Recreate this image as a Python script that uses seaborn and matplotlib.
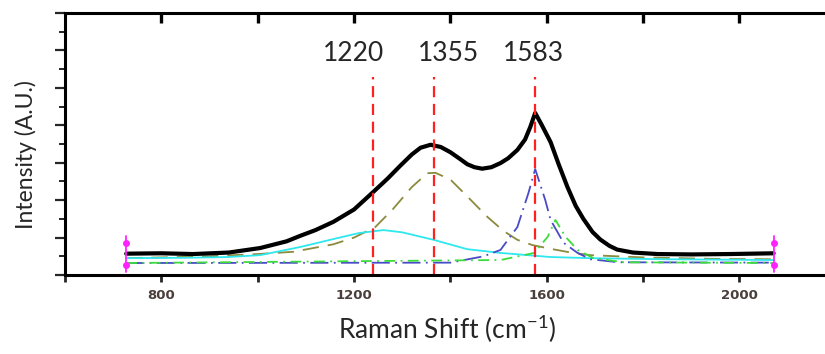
import matplotlib
matplotlib.use("Agg")
import matplotlib.pyplot as plt
import pandas as pd
import seaborn as sns

spec_x = [727, 800, 866, 940, 1005, 1060, 1089, 1120, 1157, 1200, 1240, 1270,
          1296, 1320, 1338, 1359, 1380, 1400, 1420, 1435, 1450, 1466, 1485,
          1504, 1520, 1539, 1555, 1566, 1576, 1590, 1608, 1625, 1643, 1660,
          1676, 1695, 1711, 1730, 1746, 1779, 1830, 1900, 1980, 2071]
spec_y = [0.57, 0.58, 0.56, 0.60, 0.72, 0.90, 1.05, 1.20, 1.42, 1.75, 2.22, 2.58,
          2.92, 3.22, 3.40, 3.48, 3.42, 3.28, 3.10, 2.96, 2.88, 2.84, 2.88,
          2.99, 3.12, 3.34, 3.62, 3.96, 4.33, 4.00, 3.55, 2.95, 2.35, 1.85,
          1.50, 1.15, 0.95, 0.78, 0.68, 0.60, 0.56, 0.55, 0.56, 0.58]

# fitted components
d_x = [727, 900, 1000, 1074, 1157, 1200, 1244, 1280, 1320, 1352, 1369, 1400,
       1435, 1477, 1510, 1539, 1570, 1608, 1650, 1691, 1800, 1950, 2071]
d_y = [0.45, 0.50, 0.56, 0.62, 0.82, 1.00, 1.28, 1.75, 2.35, 2.72, 2.73, 2.55,
       2.10, 1.55, 1.18, 0.94, 0.80, 0.70, 0.60, 0.53, 0.47, 0.43, 0.42]

c_x = [727, 850, 937, 1005, 1089, 1157, 1210, 1261, 1300, 1365, 1435, 1504,
       1608, 1691, 1850, 2071]
c_y = [0.45, 0.46, 0.48, 0.53, 0.75, 0.96, 1.12, 1.20, 1.14, 0.94, 0.69, 0.59,
       0.48, 0.45, 0.42, 0.40]

g_x = [727, 1400, 1469, 1504, 1539, 1562, 1576, 1597, 1608, 1635, 1664, 1691,
       1750, 2071]
g_y = [0.32, 0.33, 0.50, 0.67, 1.28, 2.19, 2.83, 2.00, 1.47, 0.86, 0.59, 0.42,
       0.34, 0.33]

s_x = [727, 1504, 1574, 1602, 1618, 1639, 1664, 1697, 1760, 2071]
s_y = [0.32, 0.40, 0.59, 1.02, 1.47, 1.02, 0.67, 0.45, 0.34, 0.32]

# fit range markers
range_x = [727, 2071]
range_lo, range_hi = 0.08, 1.04
range_dots = [0.27, 0.86]

# peak guide lines
peak_pos = [1240, 1367, 1576]
peak_labels = ["1220", "1355", "1583"]
label_x = [1198, 1395, 1572]

tick_vals = [800, 1200, 1600, 2000]

sns.set_style("ticks")
plt.rcParams["font.family"] = ["Lato", "DejaVu Sans"]

fig = plt.figure(figsize=(8.25, 3.54), dpi=100)
ax = fig.add_axes([65 / 825, 79 / 354, 765 / 825, 262 / 354])

components = [
    (d_x, d_y, "#8c8a3c", (0, (9, 5))),
    (c_x, c_y, "#2ee8ee", "-"),
    (g_x, g_y, "#4a4ac8", (0, (10, 3, 1, 3))),
    (s_x, s_y, "#3ddc3d", (0, (6, 3, 1, 3))),
]
for xs, ys, col, ls in components:
    df = pd.DataFrame({"x": xs, "y": ys})
    sns.lineplot(data=df, x="x", y="y", ax=ax, color=col, linestyle=ls,
                 linewidth=1.3, sort=False)

spec = pd.DataFrame({"x": spec_x, "y": spec_y})
sns.lineplot(data=spec, x="x", y="y", ax=ax, color="black", linewidth=3,
             sort=False)

for rx in range_x:
    ax.plot([rx, rx], [range_lo, range_hi], color="#ff22ff", lw=1.3)
    ax.plot([rx, rx], range_dots, ls="none", marker="o", ms=4, color="#ff22ff")

for px, lab, lx in zip(peak_pos, peak_labels, label_x):
    ax.plot([px, px], [0, 5.29], color="#ff2020", lw=1.6, ls=(0, (5, 3)))
    ax.text(lx, 5.93, lab, ha="center", va="center", fontsize=19)

xt = list(range(600, 2200, 200))
ax.set_xlim(600, 2188)
ax.set_ylim(0, 7)
ax.set_xticks(xt)
ax.set_xticklabels([str(v) if v in tick_vals else "" for v in xt],
                   fontsize=9.5, fontweight="bold", color="#4a3f3a",
                   family="DejaVu Sans")
ax.set_yticks(range(0, 8))
ax.set_yticks([i + 0.5 for i in range(7)], minor=True)
ax.set_yticklabels([])
ax.tick_params(axis="x", bottom=True, top=False, direction="out", length=5,
               width=2, pad=5)
ax.tick_params(axis="y", left=True, right=False, direction="out", length=7,
               width=1.6)
ax.tick_params(axis="y", which="minor", left=True, right=False,
               direction="out", length=4, width=1.4)

# top ticks point inward: short marks hanging from the top spine
xtrans = ax.get_xaxis_transform()
for v in xt[1:]:
    ax.plot([v, v], [1.0, 1 - 10 / 262], transform=xtrans, color="black",
            lw=2.4, solid_capstyle="butt", clip_on=False, zorder=6)

for s in ax.spines.values():
    s.set_linewidth(2.2)
    s.set_color("black")

ax.set_xlabel("Raman Shift (cm$^{\\mathregular{-1}}$)", fontsize=19, labelpad=8)
ax.set_ylabel("Intensity (A.U.)", fontsize=16.5)
ax.yaxis.set_label_coords(-0.036, 0.46)

fig.savefig("out.png", dpi=100)
